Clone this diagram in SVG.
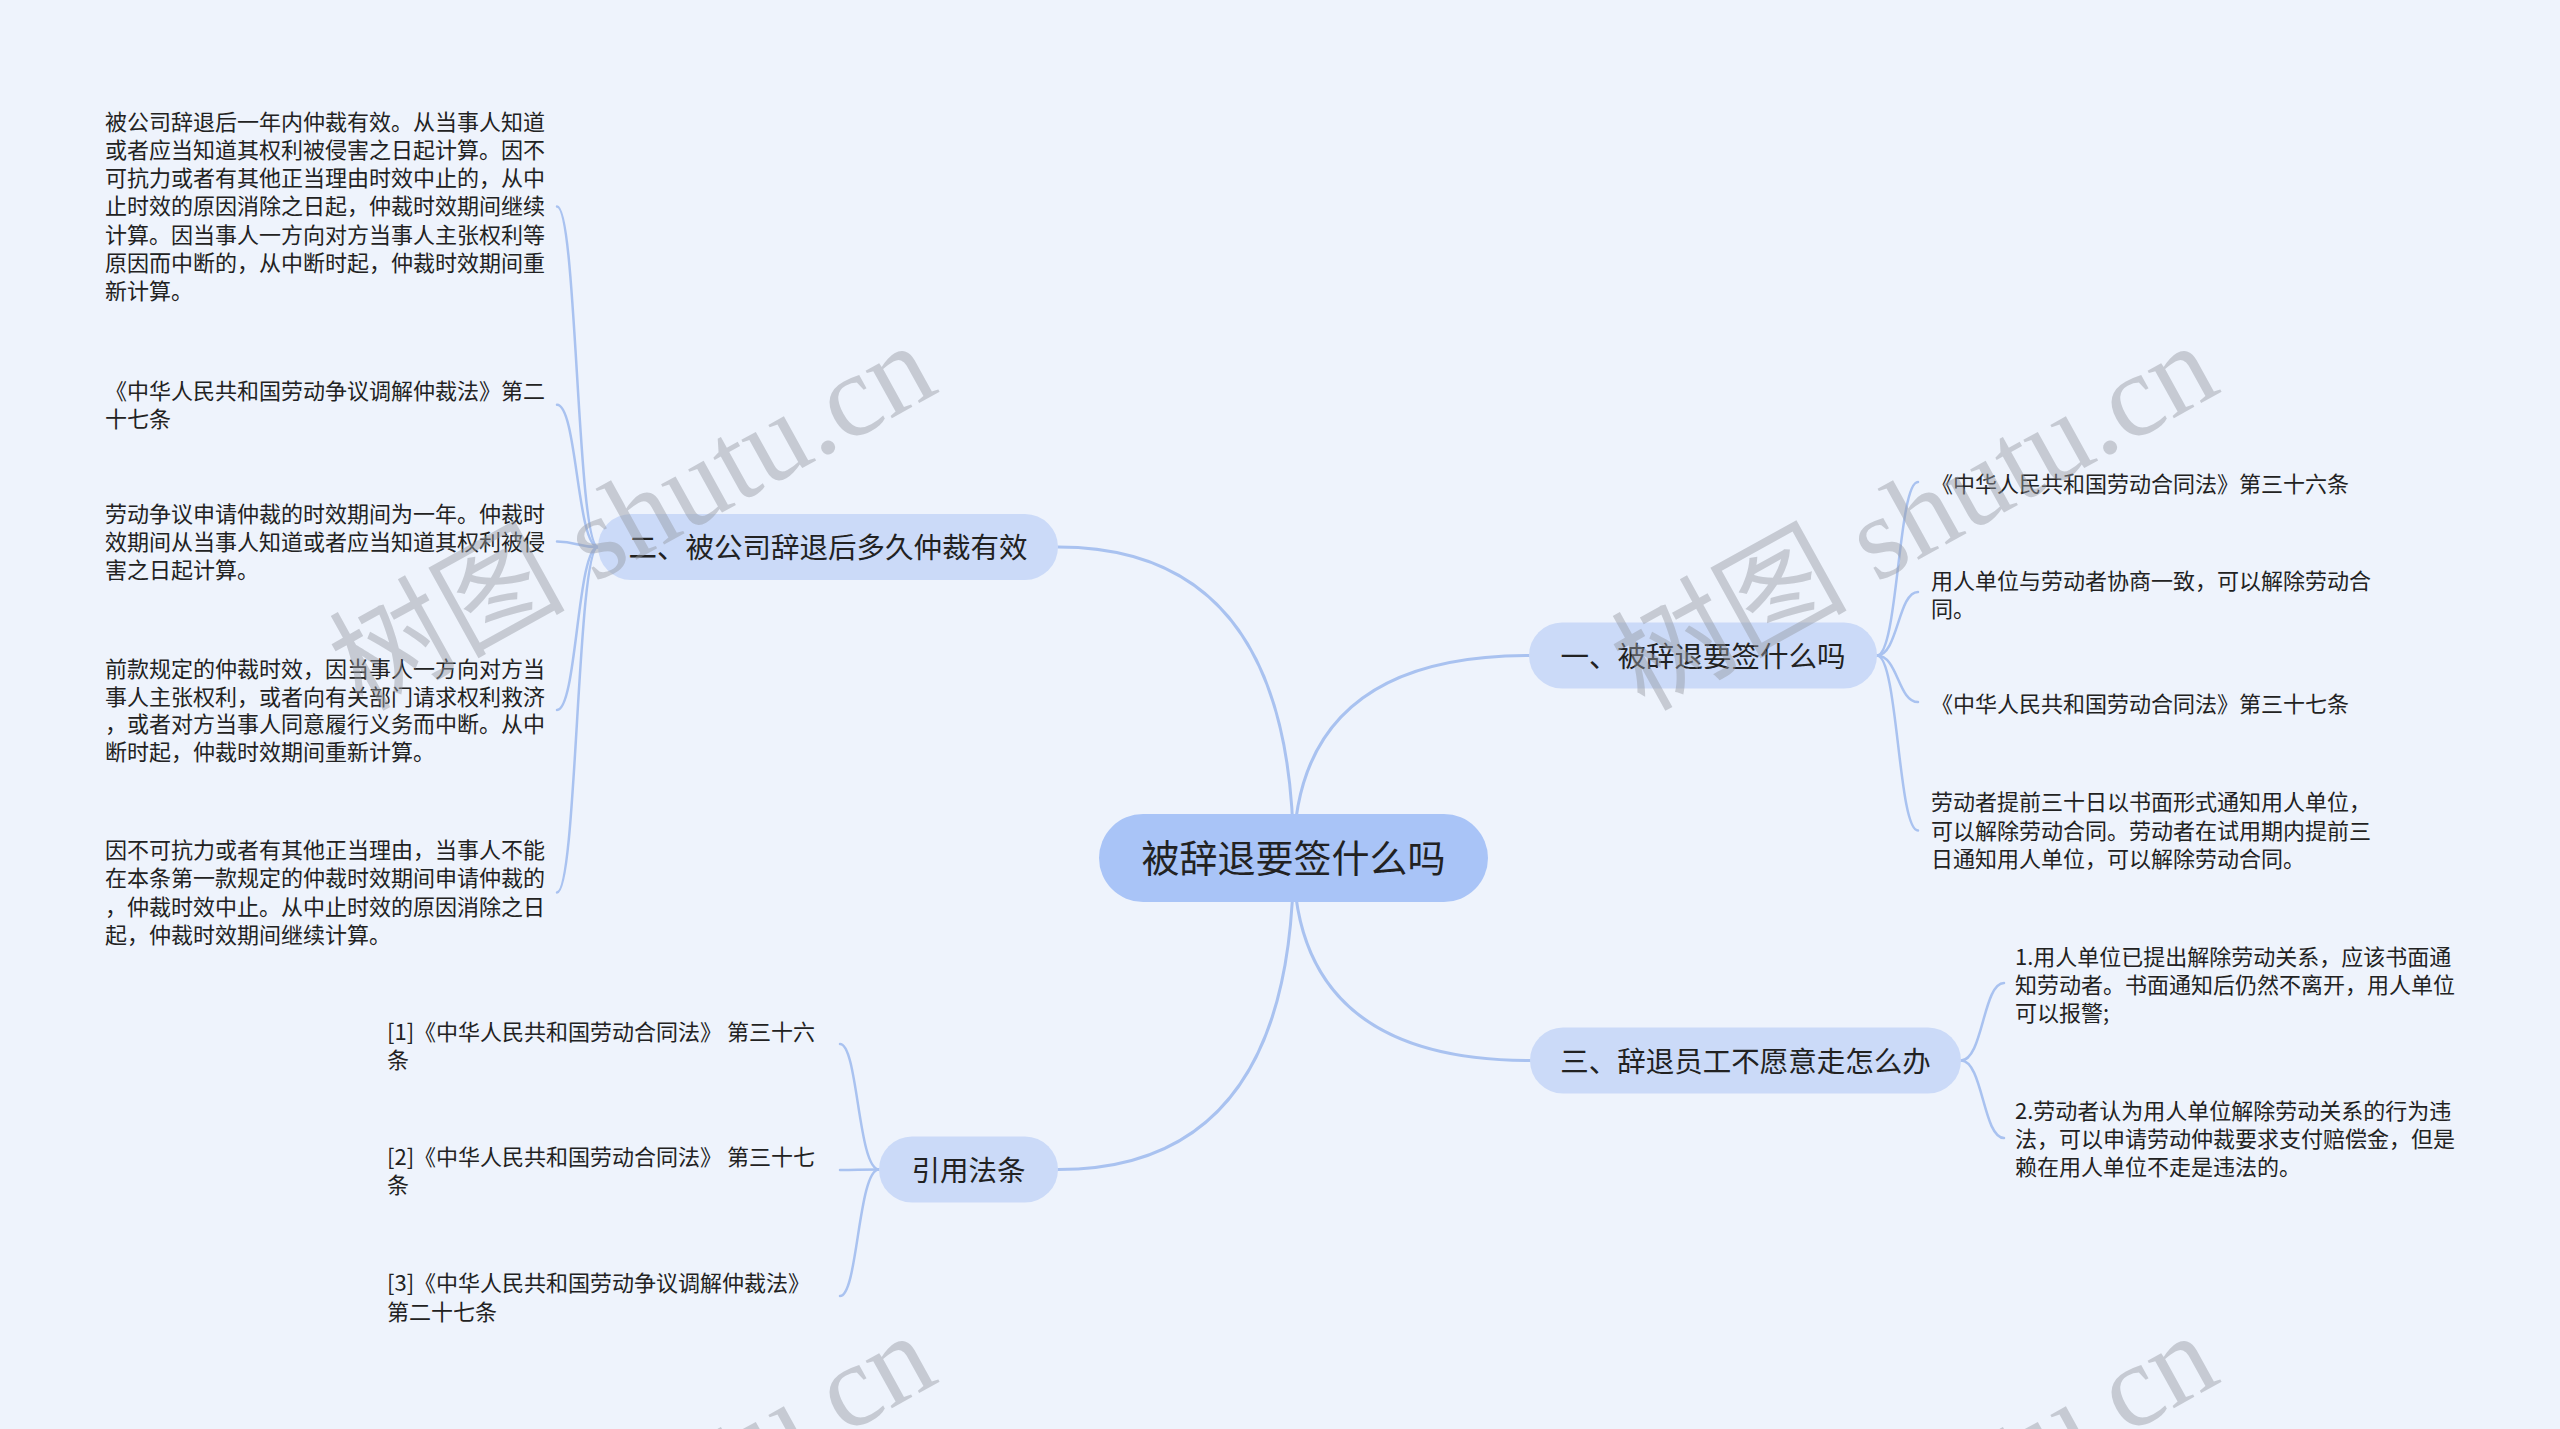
<svg xmlns="http://www.w3.org/2000/svg" width="2560" height="1429" viewBox="0 0 2560 1429">
<defs>
<style>
.bg{fill:#eef3fc}
.main{fill:none;stroke:#a9c2f0;stroke-width:3;stroke-linecap:round}
.sub{fill:none;stroke:#a9c2f0;stroke-width:2.5;stroke-linecap:round}
.root rect{fill:#a9c4f7}
.branch rect{fill:#cbdaf8}
.root text{font-family:"Noto Sans CJK SC","Noto Sans",sans-serif;font-size:38px;fill:#222;text-anchor:middle}
.branch text{font-family:"Noto Sans CJK SC","Noto Sans",sans-serif;font-size:28.5px;fill:#222;text-anchor:middle}
.leaf text{font-family:"Noto Sans CJK SC","Noto Sans",sans-serif;font-size:22px;fill:#222}
.wm{font-family:"Liberation Serif","Noto Sans CJK SC",serif;font-size:118px;fill:#969aa3;opacity:0.45}
</style>
</defs>
<rect class="bg" x="0" y="0" width="2560" height="1429"/>

<g id="connectors">
<path class="main" d="M1293.5 858 Q1293.5 547 1058 547"/>
<path class="main" d="M1293.5 858 Q1293.5 655.5 1529 655.5"/>
<path class="main" d="M1293.5 858 Q1293.5 1060.5 1530 1060.5"/>
<path class="main" d="M1293.5 858 Q1293.5 1169.5 1058 1169.5"/>
<path class="sub" d="M598 547 C577 547 577 206.5 557 206.5"/>
<path class="sub" d="M598 547 C577 547 577 404.8 557 404.8"/>
<path class="sub" d="M598 547 C577 547 577 541.5 557 541.5"/>
<path class="sub" d="M598 547 C577 547 577 710 557 710"/>
<path class="sub" d="M598 547 C577 547 577 892.5 557 892.5"/>
<path class="sub" d="M1877 655.5 C1898 655.5 1898 482 1918 482"/>
<path class="sub" d="M1877 655.5 C1898 655.5 1898 592 1918 592"/>
<path class="sub" d="M1877 655.5 C1898 655.5 1898 702 1918 702"/>
<path class="sub" d="M1877 655.5 C1898 655.5 1898 830.5 1918 830.5"/>
<path class="sub" d="M1961 1060.5 C1983 1060.5 1983 983 2004 983"/>
<path class="sub" d="M1961 1060.5 C1983 1060.5 1983 1138 2004 1138"/>
<path class="sub" d="M879 1169.5 C858 1169.5 858 1044 840 1044"/>
<path class="sub" d="M879 1169.5 C858 1169.5 858 1170 840 1170"/>
<path class="sub" d="M879 1169.5 C858 1169.5 858 1296 840 1296"/>
</g>

<g id="root" class="root">
<rect x="1099" y="814" width="389" height="88" rx="44"/>
<text x="1293.5" y="872">被辞退要签什么吗</text>
</g>

<g id="b2" class="branch">
<rect x="598" y="514" width="460" height="66" rx="33"/>
<text x="828" y="558">二、被公司辞退后多久仲裁有效</text>
</g>
<g id="b1" class="branch">
<rect x="1529" y="622.5" width="348" height="66" rx="33"/>
<text x="1703" y="666.5">一、被辞退要签什么吗</text>
</g>
<g id="b3" class="branch">
<rect x="1530" y="1027.5" width="431" height="66" rx="33"/>
<text x="1745.5" y="1071.5">三、辞退员工不愿意走怎么办</text>
</g>
<g id="b4" class="branch">
<rect x="879" y="1136.5" width="179" height="66" rx="33"/>
<text x="968.5" y="1180.5">引用法条</text>
</g>

<g id="l2a" class="leaf"><text x="105" y="130">被公司辞退后一年内仲裁有效。从当事人知道</text><text x="105" y="158">或者应当知道其权利被侵害之日起计算。因不</text><text x="105" y="186">可抗力或者有其他正当理由时效中止的，从中</text><text x="105" y="214">止时效的原因消除之日起，仲裁时效期间继续</text><text x="105" y="243">计算。因当事人一方向对方当事人主张权利等</text><text x="105" y="271">原因而中断的，从中断时起，仲裁时效期间重</text><text x="105" y="299">新计算。</text></g>
<g id="l2b" class="leaf"><text x="105" y="399">《中华人民共和国劳动争议调解仲裁法》第二</text><text x="105" y="427">十七条</text></g>
<g id="l2c" class="leaf"><text x="105" y="521.5">劳动争议申请仲裁的时效期间为一年。仲裁时</text><text x="105" y="549.5">效期间从当事人知道或者应当知道其权利被侵</text><text x="105" y="577.5">害之日起计算。</text></g>
<g id="l2d" class="leaf"><text x="105" y="676.5">前款规定的仲裁时效，因当事人一方向对方当</text><text x="105" y="704.5">事人主张权利，或者向有关部门请求权利救济</text><text x="105" y="732">，或者对方当事人同意履行义务而中断。从中</text><text x="105" y="760">断时起，仲裁时效期间重新计算。</text></g>
<g id="l2e" class="leaf"><text x="105" y="858">因不可抗力或者有其他正当理由，当事人不能</text><text x="105" y="886">在本条第一款规定的仲裁时效期间申请仲裁的</text><text x="105" y="914.5">，仲裁时效中止。从中止时效的原因消除之日</text><text x="105" y="943">起，仲裁时效期间继续计算。</text></g>

<g id="l1a" class="leaf"><text x="1931" y="492">《中华人民共和国劳动合同法》第三十六条</text></g>
<g id="l1b" class="leaf"><text x="1931" y="589">用人单位与劳动者协商一致，可以解除劳动合</text><text x="1931" y="617">同。</text></g>
<g id="l1c" class="leaf"><text x="1931" y="712">《中华人民共和国劳动合同法》第三十七条</text></g>
<g id="l1d" class="leaf"><text x="1931" y="810">劳动者提前三十日以书面形式通知用人单位，</text><text x="1931" y="838.5">可以解除劳动合同。劳动者在试用期内提前三</text><text x="1931" y="867">日通知用人单位，可以解除劳动合同。</text></g>

<g id="l3a" class="leaf"><text x="2015" y="965">1.用人单位已提出解除劳动关系，应该书面通</text><text x="2015" y="993">知劳动者。书面通知后仍然不离开，用人单位</text><text x="2015" y="1021">可以报警;</text></g>
<g id="l3b" class="leaf"><text x="2015" y="1119">2.劳动者认为用人单位解除劳动关系的行为违</text><text x="2015" y="1147">法，可以申请劳动仲裁要求支付赔偿金，但是</text><text x="2015" y="1175">赖在用人单位不走是违法的。</text></g>

<g id="l4a" class="leaf"><text x="387" y="1040">[1]《中华人民共和国劳动合同法》 第三十六</text><text x="387" y="1068">条</text></g>
<g id="l4b" class="leaf"><text x="387" y="1165">[2]《中华人民共和国劳动合同法》 第三十七</text><text x="387" y="1193">条</text></g>
<g id="l4c" class="leaf"><text x="387" y="1291">[3]《中华人民共和国劳动争议调解仲裁法》</text><text x="387" y="1320">第二十七条</text></g>

<g id="watermarks">
<text class="wm" transform="translate(362 712) rotate(-29)">树图 shutu.cn</text>
<text class="wm" transform="translate(1644 712) rotate(-29)">树图 shutu.cn</text>
<text class="wm" transform="translate(362 1702) rotate(-29)">树图 shutu.cn</text>
<text class="wm" transform="translate(1644 1702) rotate(-29)">树图 shutu.cn</text>
</g>
</svg>
